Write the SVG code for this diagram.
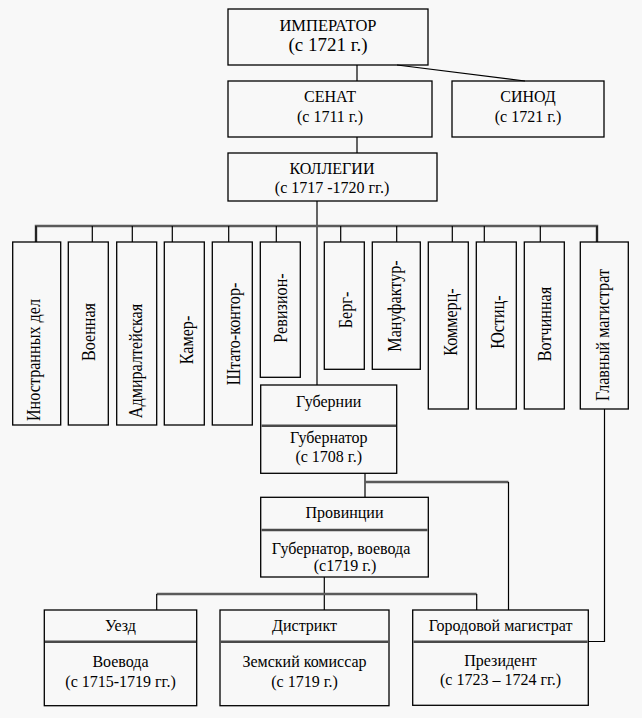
<svg xmlns="http://www.w3.org/2000/svg" width="642" height="718" viewBox="0 0 642 718" font-family="'Liberation Serif', 'Times New Roman', serif">
<style>
.bx{fill:none;stroke:#000;stroke-width:1.3}
.dv{stroke:#4a4a4a;stroke-width:2.5}
.ln{fill:none;stroke:#000;stroke-width:1.2}
.gl{fill:none;stroke:#5a5a5a;stroke-width:2.5}
text{font-size:16px;fill:#000;text-anchor:middle}
.t1{font-size:16.5px}
.t2{font-size:19px}
.vt{font-size:19px}
</style>
<rect width="642" height="718" fill="#f8f8f8"/>
<g id="connectors">
<line class="ln" x1="357" y1="65" x2="357" y2="81"/>
<line class="ln" x1="397" y1="65" x2="525" y2="81"/>
<line class="ln" x1="357" y1="137" x2="357" y2="153"/>
<line class="ln" x1="317" y1="201" x2="317" y2="385"/>
<polyline class="gl" points="36,242 36,226 597,226 597,242"/>
<line class="ln" x1="36" y1="226" x2="36" y2="242"/>
<line class="ln" x1="92.3" y1="226" x2="92.3" y2="242"/>
<line class="ln" x1="132.3" y1="226" x2="132.3" y2="242"/>
<line class="ln" x1="172.3" y1="226" x2="172.3" y2="242"/>
<line class="ln" x1="228.7" y1="226" x2="228.7" y2="242"/>
<line class="ln" x1="276.3" y1="226" x2="276.3" y2="242"/>
<line class="ln" x1="340.7" y1="226" x2="340.7" y2="242"/>
<line class="ln" x1="396.7" y1="226" x2="396.7" y2="242"/>
<line class="ln" x1="452.3" y1="226" x2="452.3" y2="242"/>
<line class="ln" x1="484.3" y1="226" x2="484.3" y2="242"/>
<line class="ln" x1="540.3" y1="226" x2="540.3" y2="242"/>
<line class="ln" x1="597" y1="226" x2="597" y2="242"/>
<line class="ln" x1="365" y1="473" x2="365" y2="497"/>
<line class="gl" x1="365" y1="482" x2="508.5" y2="482"/>
<line class="ln" x1="508.5" y1="482" x2="508.5" y2="610"/>
<line class="ln" x1="324.3" y1="577" x2="324.3" y2="610"/>
<line class="gl" x1="156.7" y1="594" x2="476.7" y2="594"/>
<line class="ln" x1="156.7" y1="594" x2="156.7" y2="610"/>
<line class="ln" x1="476.7" y1="594" x2="476.7" y2="610"/>
<polyline class="ln" points="604.5,409 604.5,641.5 588.3,641.5"/>
</g>
<g id="emperor">
<rect class="bx" x="228" y="9" width="200" height="56"/>
<text x="328" y="31" class="t1">ИМПЕРАТОР</text>
<text x="328" y="51" class="t2">(с 1721 г.)</text>
</g>
<g id="senate">
<rect class="bx" x="228" y="81" width="204" height="56"/>
<text x="330" y="102">СЕНАТ</text>
<text x="330" y="122">(с 1711 г.)</text>
</g>
<g id="synod">
<rect class="bx" x="452" y="81" width="152" height="56"/>
<text x="528" y="102">СИНОД</text>
<text x="528" y="122">(с 1721 г.)</text>
</g>
<g id="collegia">
<rect class="bx" x="228" y="153" width="209" height="48"/>
<text x="332" y="174">КОЛЛЕГИИ</text>
<text x="332" y="192.5">(с 1717 -1720 гг.)</text>
</g>
<g id="c1"><rect class="bx" x="12.7" y="242" width="48" height="183"/><text class="vt" transform="translate(39.5,360) rotate(-90) scale(0.85,1)">Иностранных дел</text></g>
<g id="c2"><rect class="bx" x="68.3" y="242" width="40" height="183"/><text class="vt" transform="translate(95,332) rotate(-90) scale(0.85,1)">Военная</text></g>
<g id="c3"><rect class="bx" x="116.7" y="242" width="40" height="183"/><text class="vt" transform="translate(142,361) rotate(-90) scale(0.85,1)">Адмиралтейская</text></g>
<g id="c4"><rect class="bx" x="164.3" y="242" width="40" height="183"/><text class="vt" transform="translate(192.5,340) rotate(-90) scale(0.85,1)">Камер-</text></g>
<g id="c5"><rect class="bx" x="212.3" y="242" width="40" height="183"/><text class="vt" transform="translate(240,334) rotate(-90) scale(0.85,1)">Штато-контор-</text></g>
<g id="c6"><rect class="bx" x="260.3" y="242" width="40" height="135.3"/><text class="vt" transform="translate(287,308) rotate(-90) scale(0.85,1)">Ревизион-</text></g>
<g id="c7"><rect class="bx" x="324.3" y="242" width="40" height="127.3"/><text class="vt" transform="translate(351.5,310) rotate(-90) scale(0.85,1)">Берг-</text></g>
<g id="c8"><rect class="bx" x="372.3" y="242" width="48" height="127.3"/><text class="vt" transform="translate(401,306) rotate(-90) scale(0.85,1)">Мануфактур-</text></g>
<g id="c9"><rect class="bx" x="428.3" y="242" width="40" height="167"/><text class="vt" transform="translate(456.5,322) rotate(-90) scale(0.85,1)">Коммерц-</text></g>
<g id="c10"><rect class="bx" x="476.3" y="242" width="40" height="167"/><text class="vt" transform="translate(503.5,322) rotate(-90) scale(0.85,1)">Юстиц-</text></g>
<g id="c11"><rect class="bx" x="524.3" y="242" width="40" height="167"/><text class="vt" transform="translate(550.5,324) rotate(-90) scale(0.85,1)">Вотчинная</text></g>
<g id="c12"><rect class="bx" x="580.3" y="242" width="48" height="167"/><text class="vt" transform="translate(609,335) rotate(-90) scale(0.85,1)">Главный магистрат</text></g>
<g id="gubernii">
<rect class="bx" x="260.7" y="385" width="136" height="88.3"/>
<line class="dv" x1="261.5" y1="425.7" x2="396" y2="425.7"/>
<text x="328.7" y="406.5">Губернии</text>
<text x="328.7" y="442.7">Губернатор</text>
<text x="328.7" y="461.5">(с 1708 г.)</text>
</g>
<g id="provintsii">
<rect class="bx" x="260.7" y="497.3" width="167.6" height="79.7"/>
<line class="dv" x1="261.5" y1="530" x2="427.5" y2="530"/>
<text x="344.5" y="518">Провинции</text>
<text x="341" y="554">Губернатор, воевода</text>
<text x="345" y="571">(с1719 г.)</text>
</g>
<g id="uezd">
<rect class="bx" x="44.3" y="610" width="152.4" height="95.7"/>
<line class="dv" x1="45" y1="641.7" x2="196" y2="641.7"/>
<text x="120.5" y="630.5">Уезд</text>
<text x="120.5" y="667">Воевода</text>
<text x="120.5" y="686.5">(с 1715-1719 гг.)</text>
</g>
<g id="distrikt">
<rect class="bx" x="220" y="610" width="169" height="95.7"/>
<line class="dv" x1="220.7" y1="641.7" x2="388.3" y2="641.7"/>
<text x="304.5" y="630.5">Дистрикт</text>
<text x="304.5" y="667">Земский комиссар</text>
<text x="304.5" y="686.5">(с 1719 г.)</text>
</g>
<g id="gorodovoy">
<rect class="bx" x="412.7" y="610" width="175.6" height="95.3"/>
<line class="dv" x1="413.4" y1="641.7" x2="587.6" y2="641.7"/>
<text x="500.5" y="630.5">Городовой магистрат</text>
<text x="500.5" y="666">Президент</text>
<text x="500.5" y="685">(с 1723 – 1724 гг.)</text>
</g>
</svg>
